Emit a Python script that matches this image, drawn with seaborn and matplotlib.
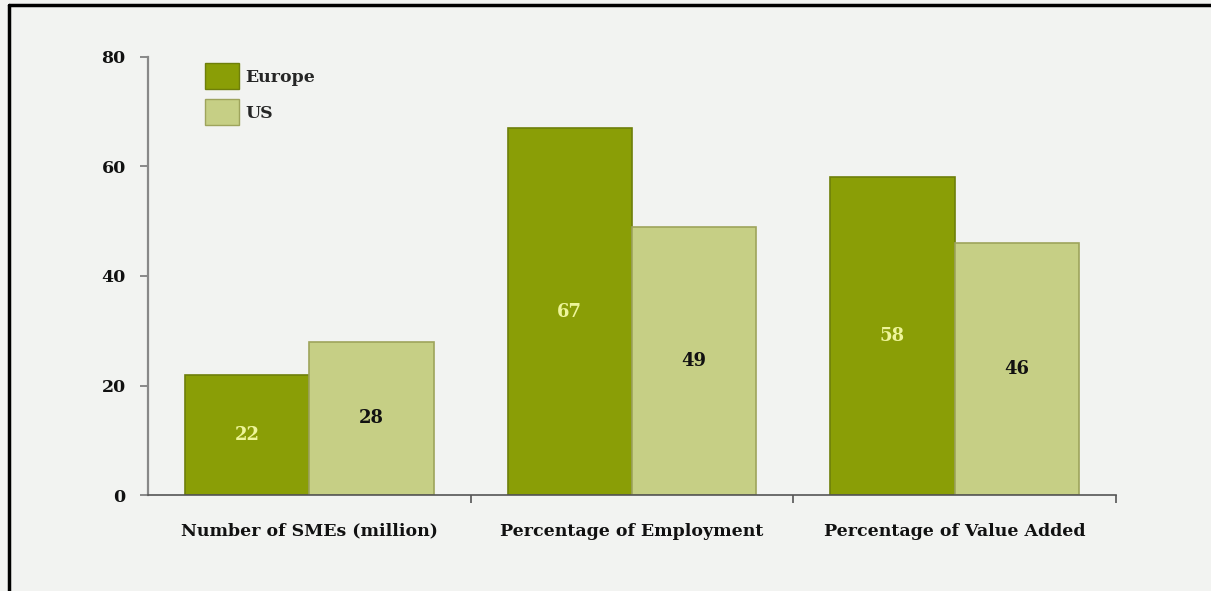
import matplotlib
matplotlib.use("Agg")
import matplotlib.pyplot as plt
from matplotlib.lines import Line2D
import seaborn as sns
import pandas as pd

categories = ["Number of SMEs (million)", "Percentage of Employment", "Percentage of Value Added"]
series = ["Europe", "US"]
europe_values = [22, 67, 58]
us_values = [28, 49, 46]
y_ticks = [0, 20, 40, 60, 80]

df = pd.DataFrame({
    "category": categories * 2,
    "region": [series[0]] * 3 + [series[1]] * 3,
    "value": europe_values + us_values,
})

sns.set_theme(style="white")
plt.rcParams["font.family"] = ["DejaVu Serif"]
plt.rcParams["font.weight"] = "bold"

bg = "#f2f3f1"
fill_colors = {"Europe": "#8a9e06", "US": "#c6cf85"}
edge_colors = {"Europe": "#6e7f0a", "US": "#9ea45c"}
label_colors = {"Europe": "#eef59a", "US": "#111111"}
fs = 12.5

fig = plt.figure(figsize=(12.11, 5.91), dpi=100, facecolor=bg)
ax = fig.add_axes([0.1222, 0.1624, 0.7993, 0.7412])
ax.set_facecolor(bg)

sns.barplot(data=df, x="category", y="value", hue="region", order=categories,
            hue_order=series, palette=fill_colors, width=0.77, gap=0,
            saturation=1, ax=ax, legend=False)

for container, name in zip(ax.containers, series):
    for patch in container:
        patch.set_edgecolor(edge_colors[name])
        patch.set_linewidth(1.2)
    vals = europe_values if name == "Europe" else us_values
    for patch, v in zip(container, vals):
        cx = patch.get_x() + patch.get_width() / 2
        ax.text(cx, v / 2, f"{v}", ha="center", va="center",
                fontsize=13, fontweight="bold", color=label_colors[name])

ax.set_xlim(-0.5, 2.5)
ax.set_ylim(0, 80)
ax.set_yticks(y_ticks)
ax.set_yticklabels([str(t) for t in y_ticks], fontsize=fs, fontweight="bold")
ax.set_xticks(range(len(categories)))
ax.set_xticklabels(categories, fontsize=fs, fontweight="bold")
ax.set_xticks([0.5, 1.5, 2.5], minor=True)
ax.tick_params(axis="x", which="major", bottom=True, length=0, pad=20, labelcolor="#111111")
ax.tick_params(axis="x", which="minor", bottom=True, length=6, width=1.2, color="#555555", direction="out")
ax.tick_params(axis="y", left=True, length=6, width=1.2, color="#777777", direction="out", pad=10, labelcolor="#111111")
ax.set_xlabel("")
ax.set_ylabel("")

for side in ["top", "right"]:
    ax.spines[side].set_visible(False)
ax.spines["left"].set_color("#888888")
ax.spines["left"].set_linewidth(1.6)
ax.spines["bottom"].set_color("#555555")
ax.spines["bottom"].set_linewidth(1.2)

handles = [plt.Rectangle((0, 0), 1, 1, facecolor=fill_colors[s], edgecolor=edge_colors[s]) for s in series]
leg = ax.legend(handles, series, loc="upper left", bbox_to_anchor=(0.0585, 0.986),
                frameon=False, fontsize=fs, handlelength=2.0, handleheight=1.9,
                handletextpad=0.35, labelspacing=0.6, borderaxespad=0, borderpad=0)
for t in leg.get_texts():
    t.set_fontweight("bold")

# frame lines along the top and left edges of the figure
fig.add_artist(Line2D([0.0075, 1.0], [0.992, 0.992], transform=fig.transFigure, color="black", lw=2.5))
fig.add_artist(Line2D([0.0075, 0.0075], [0.0, 0.992], transform=fig.transFigure, color="black", lw=2.5))

fig.savefig("out.png", dpi=100, facecolor=bg)
